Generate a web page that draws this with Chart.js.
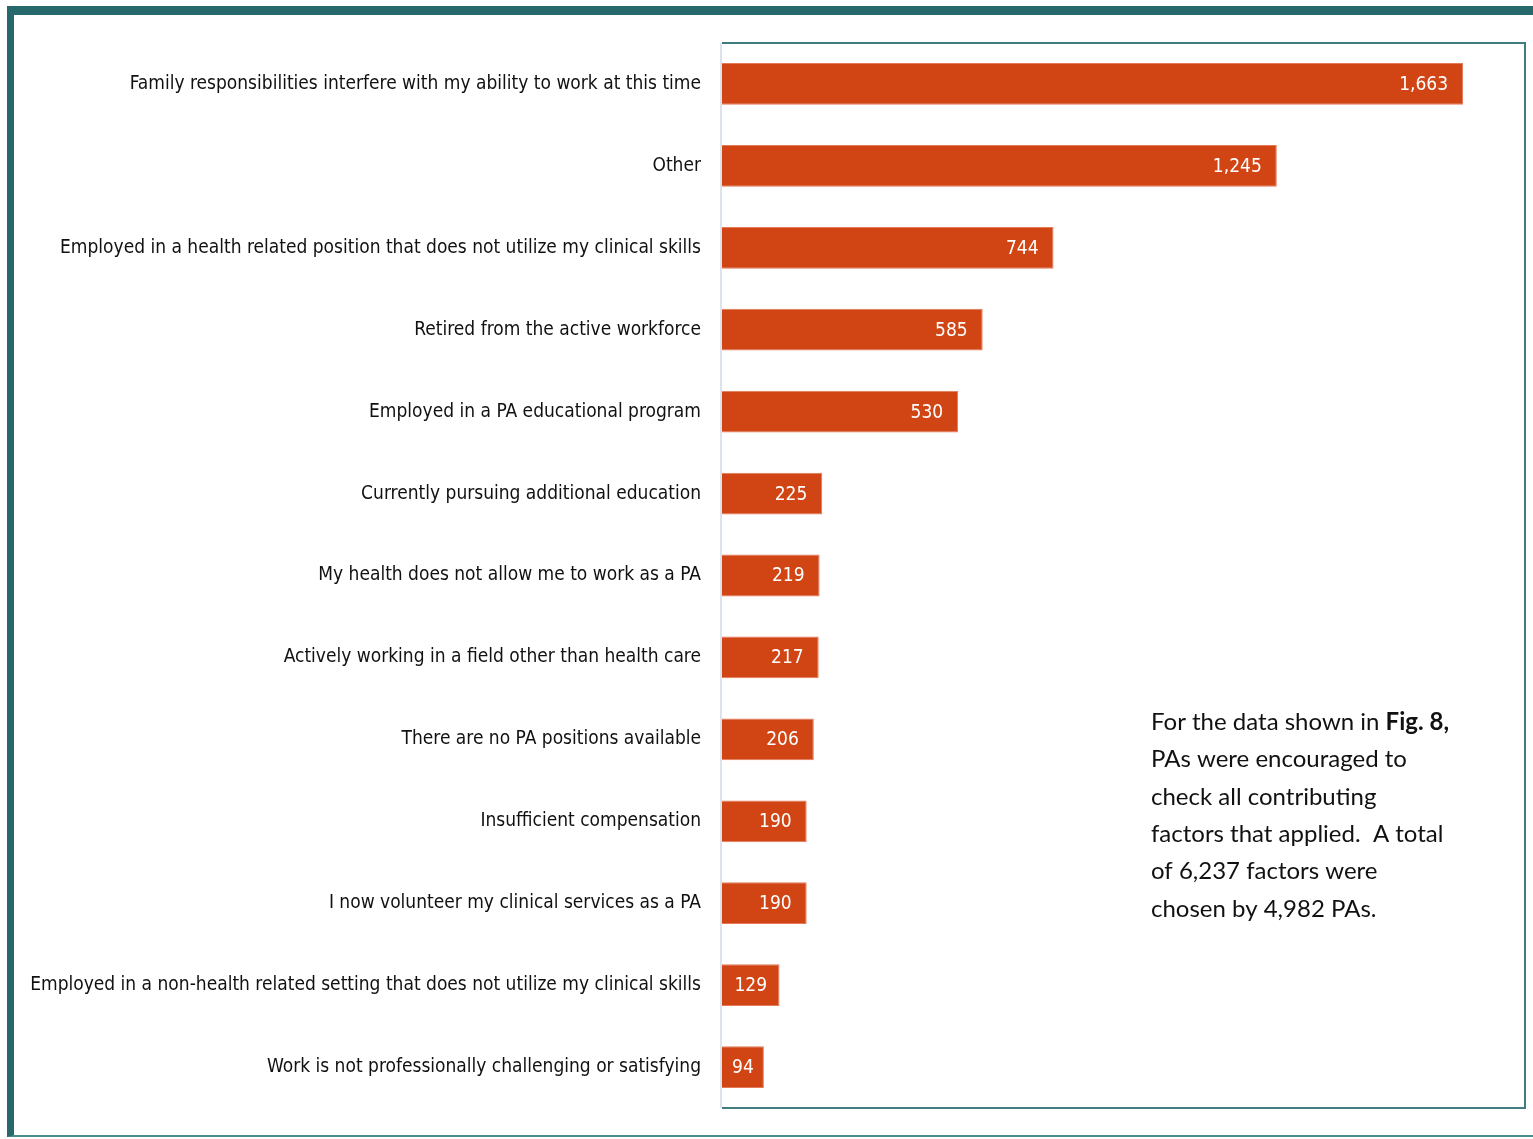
<!DOCTYPE html>
<html>
<head>
<meta charset="utf-8">
<script src="https://cdn.jsdelivr.net/npm/chart.js@4.4.1/dist/chart.umd.min.js"></script>
<style>
  html, body { margin: 0; padding: 0; background: #fff; overflow: hidden; }
  #frame {
    position: absolute; left: 7px; top: 6px; width: 1540px; height: 1120px;
    border-top: 9px solid #27686c; border-left: 7px solid #27686c;
    border-bottom: 2px solid #4f8a8c;
  }
  #wrap { position: absolute; left: 0; top: 0; width: 1533px; height: 1139px; }
</style>
</head>
<body>
<div id="frame"></div>
<div id="wrap"><canvas id="graphCanvas"></canvas></div>
<script>
const labels = [
    'Family responsibilities interfere with my ability to work at this time',
    'Other',
    'Employed in a health related position that does not utilize my clinical skills',
    'Retired from the active workforce',
    'Employed in a PA educational program',
    'Currently pursuing additional education',
    'My health does not allow me to work as a PA',
    'Actively working in a field other than health care',
    'There are no PA positions available',
    'Insufficient compensation',
    'I now volunteer my clinical services as a PA',
    'Employed in a non-health related setting that does not utilize my clinical skills',
    'Work is not professionally challenging or satisfying'
];
const counts = [1663, 1245, 744, 585, 530, 225, 219, 217, 206, 190, 190, 129, 94];

const noteLines = [
    ['For the data shown in ', 'Fig. 8,'],
    ['PAs were encouraged to'],
    ['check all contributing'],
    ['factors that applied.  A total'],
    ['of 6,237 factors were'],
    ['chosen by 4,982 PAs.']
];

const narrow = '"Liberation Sans Narrow", "DejaVu Sans Condensed", sans-serif';

// box around the plot area
const boxPlugin = {
    id: 'box',
    afterDraw(chart) {
        const a = chart.chartArea;
        const c = chart.ctx;
        c.save();
        c.strokeStyle = '#3f7d80';
        c.lineWidth = 2;
        c.beginPath();
        c.moveTo(a.left, a.top);
        c.lineTo(a.right, a.top);
        c.lineTo(a.right, a.bottom);
        c.lineTo(a.left, a.bottom);
        c.stroke();
        c.strokeStyle = '#dde3ea';
        c.beginPath();
        c.moveTo(a.left - 1, a.top);
        c.lineTo(a.left - 1, a.bottom);
        c.stroke();
        c.restore();
    }
};

// white value labels inside the end of each bar
const valuePlugin = {
    id: 'values',
    afterDatasetsDraw(chart) {
        const c = chart.ctx;
        const meta = chart.getDatasetMeta(0);
        c.save();
        c.fillStyle = '#ffffff';
        c.font = '19px ' + narrow;
        c.textAlign = 'right';
        c.textBaseline = 'middle';
        meta.data.forEach((bar, i) => {
            const txt = counts[i].toLocaleString('en-US');
            const tw = c.measureText(txt).width;
            const gap = Math.min(15, (bar.x - bar.base - tw) / 2);
            c.fillText(txt, bar.x - gap, bar.y + 1);
        });
        c.restore();
    }
};

// text note inside the plot
const notePlugin = {
    id: 'note',
    afterDraw(chart) {
        const c = chart.ctx;
        c.save();
        c.fillStyle = '#111111';
        c.textBaseline = 'middle';
        c.textAlign = 'left';
        noteLines.forEach((parts, i) => {
            let x = 1151;
            const y = 722 + i * 37.4;
            parts.forEach((p, j) => {
                c.font = (j === 1 ? 'bold ' : '') + '24px Lato, "Open Sans", sans-serif';
                c.fillText(p, x, y);
                x += c.measureText(p).width;
            });
        });
        c.restore();
    }
};

const ctx = document.getElementById('graphCanvas');
new Chart(ctx, {
    type: 'bar',
    data: {
        labels: labels,
        datasets: [{
            data: counts,
            backgroundColor: '#d14514',
            borderColor: '#e27a58',
            borderWidth: 1,
            barPercentage: 0.51,
            categoryPercentage: 1
        }]
    },
    plugins: [boxPlugin, valuePlugin, notePlugin],
    options: {
        indexAxis: 'y',
        responsive: true,
        maintainAspectRatio: false,
        animation: false,
        layout: {
            padding: { left: 0, right: 8, top: 43, bottom: 23 }
        },
        plugins: {
            legend: { display: false },
            tooltip: { enabled: false }
        },
        scales: {
            x: {
                min: 0,
                max: 1802,
                grid: { display: false },
                border: { display: false },
                ticks: { display: false }
            },
            y: {
                grid: { display: false },
                border: { display: false },
                afterFit(scale) { scale.width = 722; },
                ticks: {
                    padding: 13,
                    color: '#111111',
                    font: { family: narrow, size: 19 }
                }
            }
        }
    }
});
</script>
</body>
</html>
